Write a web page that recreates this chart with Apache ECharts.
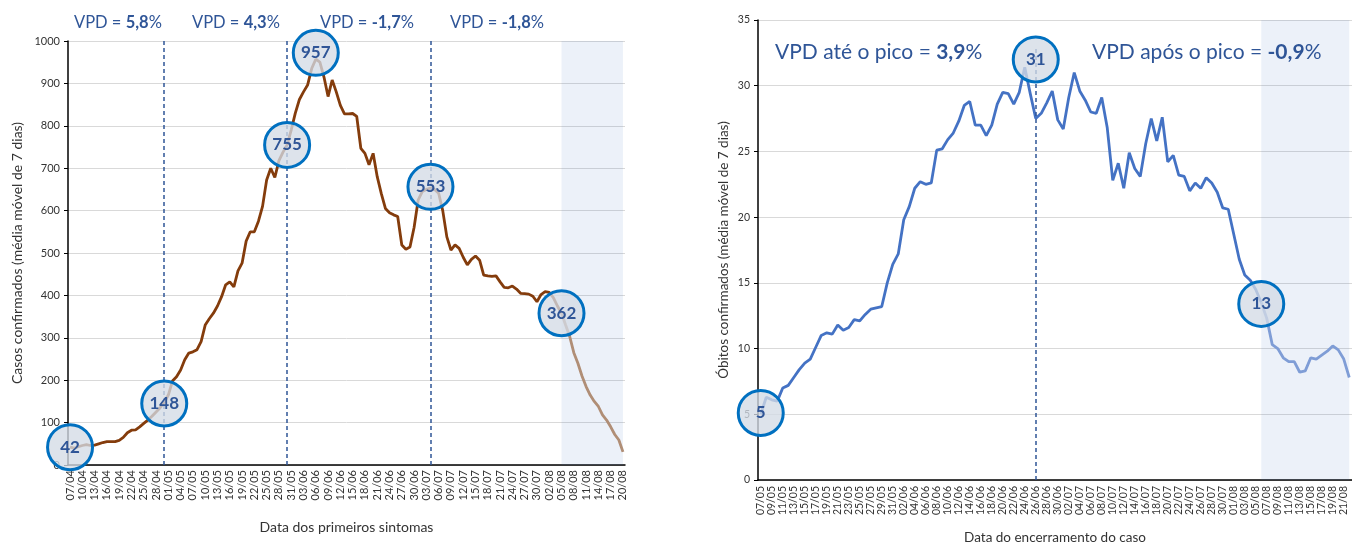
<!DOCTYPE html>
<html>
<head>
<meta charset="utf-8">
<script src="https://cdn.jsdelivr.net/npm/echarts@6/dist/echarts.min.js"></script>
<style>
  html, body { margin: 0; padding: 0; background: #fff; }
  #chart { width: 1352px; height: 545px; }
</style>
</head>
<body>
<div id="chart"></div>
<script>
// daily "dd/mm" labels from a start day
const dayLabels = (day, month, count) => {
  const out = [];
  const start = Date.UTC(2020, month - 1, day);
  for (let i = 0; i < count; i++) {
    const d = new Date(start + i * 86400000);
    out.push(String(d.getUTCDate()).padStart(2, '0') + '/' + String(d.getUTCMonth() + 1).padStart(2, '0'));
  }
  return out;
};

// left: cases by first-symptom date (07/04 .. 20/08)
const casesDates = dayLabels(7, 4, 136);
const casesValues = [
  42, 40, 43, 46, 48, 46, 47, 50, 53, 55, 55, 55, 58, 65, 76, 82, 83, 90, 98, 106,
  115, 125, 135, 148, 165, 198, 208, 224, 248, 264, 267, 272, 291, 330, 345, 358, 375, 397, 425, 432,
  420, 458, 476, 528, 550, 550, 575, 610, 672, 700, 678, 718, 738, 755, 790, 830, 862, 880, 896, 935,
  957, 950, 915, 869, 908, 880, 848, 828, 828, 829, 822, 747, 735, 708, 735, 680, 640, 605, 595, 590,
  586, 519, 509, 514, 560, 625, 645, 650, 653, 650, 641, 600, 538, 507, 519, 511, 490, 472, 485, 493,
  483, 448, 446, 445, 446, 432, 419, 418, 422, 415, 405, 404, 403, 398, 385, 402, 409, 407, 395, 375,
  358, 330, 303, 265, 240, 210, 185, 165, 150, 138, 118, 106, 90, 72, 59, 31
];
const casesBreaks = ['30/04', '30/05', '04/07'];
const casesShadeFrom = '05/08';
const casesMarkers = [['07/04', 42, '42'], ['30/04', 145, '148'], ['30/05', 755, '755'], ['06/06', 972, '957'], ['04/07', 656, '553'], ['05/08', 358, '362']];
const casesVpd = [['5,8', 74], ['4,3', 192], ['-1,7', 320], ['-1,8', 450]];

// right: deaths by case closing date (07/05 .. 22/08)
const deathsDates = dayLabels(7, 5, 108);
const deathsValues = [
  5.0, 6.3, 6.1, 6.0, 7.0, 7.2, 7.8, 8.4, 8.9, 9.2, 10.1, 11.0, 11.2, 11.1, 11.8, 11.4, 11.6, 12.2, 12.1, 12.6,
  13.0, 13.1, 13.2, 15.0, 16.4, 17.2, 19.8, 20.8, 22.2, 22.7, 22.5, 22.6, 25.1, 25.2, 25.9, 26.4, 27.3, 28.5, 28.8, 27.0,
  27.0, 26.2, 27.0, 28.6, 29.5, 29.4, 28.6, 29.5, 31.4, 29.4, 27.5, 27.9, 28.7, 29.6, 27.4, 26.7, 29.1, 31.0, 29.6, 28.9,
  28.0, 27.9, 29.1, 26.8, 22.8, 24.1, 22.2, 24.9, 23.7, 23.1, 25.6, 27.5, 25.8, 27.6, 24.2, 24.7, 23.2, 23.1, 22.0, 22.6,
  22.2, 23.0, 22.6, 21.9, 20.7, 20.6, 18.7, 16.8, 15.6, 15.2, 14.5, 13.5, 12.3, 10.3, 10.0, 9.3, 9.0, 9.0, 8.2, 8.3,
  9.3, 9.2, 9.5, 9.8, 10.2, 9.9, 9.2, 7.8
];
const deathsPeak = '26/06';
const deathsShadeFrom = '06/08';
const deathsMarkers = [['07/05', 5.1, '5'], ['26/06', 32, '31'], ['06/08', 13.4, '13']];
const deathsVpd = [['VPD até o pico = ', '3,9', 775], ['VPD após o pico = ', '-0,9', 1092]];

const font = 'Lato, "Open Sans", sans-serif';
const blueText = '#2f5597';

// split a series at a category: before (inclusive) / after (inclusive)
const upTo = (values, idx) => values.map((v, i) => (i <= idx ? v : '-'));
const fromOn = (values, idx) => values.map((v, i) => (i >= idx ? v : '-'));
const casesCut = casesDates.indexOf(casesShadeFrom);
const deathsCut = deathsDates.indexOf(deathsShadeFrom);

const marker = (xAxisIndex, yAxisIndex, data) => ({
  type: 'scatter', xAxisIndex, yAxisIndex, data, clip: false, z: 5,
  symbolSize: 45,
  itemStyle: { color: 'rgba(212,219,229,0.78)', borderColor: '#0070c0', borderWidth: 3, opacity: 1 },
  label: { show: true, position: 'inside', formatter: (p) => p.data[2], color: blueText, fontFamily: font, fontWeight: 'bold', fontSize: 17 },
  emphasis: { disabled: true },
});

const line = (xAxisIndex, data, color, extra) => ({
  type: 'line', xAxisIndex, yAxisIndex: xAxisIndex, data, showSymbol: false, z: 3,
  lineStyle: { width: 2.8, color }, itemStyle: { color },
  emphasis: { disabled: true },
  ...extra,
});

const axisLabel = { color: '#333', fontFamily: font, fontSize: 11 };
const nameStyle = { color: '#333', fontFamily: font, fontSize: 14 };
const vpdRich = (size) => ({
  fontWeight: 'normal',
  rich: {
    a: { color: blueText, fontSize: size, fontWeight: 'normal', fontFamily: font },
    b: { color: blueText, fontSize: size, fontWeight: 'bold', fontFamily: font },
  },
});

const chart = echarts.init(document.getElementById('chart'), null, { renderer: 'canvas' });
chart.setOption({
  animation: false,
  textStyle: { fontFamily: font },
  title: [
    ...casesVpd.map(([v, left]) => ({ text: `{a|VPD = }{b|${v}}{a|%}`, left, top: 14, padding: 0, textStyle: vpdRich(16.5) })),
    ...deathsVpd.map(([t, v, left]) => ({ text: `{a|${t}}{b|${v}}{a|%}`, left, top: 42, padding: 0, textStyle: vpdRich(21) })),
  ],
  grid: [
    { left: 68, top: 41, width: 557, height: 424, outerBoundsMode: 'none' },
    { left: 758, top: 20, width: 594, height: 460, outerBoundsMode: 'none' },
  ],
  xAxis: [
    {
      type: 'category', gridIndex: 0, data: casesDates, boundaryGap: true,
      name: 'Data dos primeiros sintomas', nameLocation: 'middle', nameGap: 55, nameTextStyle: nameStyle,
      axisLine: { lineStyle: { color: '#000', width: 1.5 } },
      axisTick: { interval: 2, alignWithLabel: true, length: 5, lineStyle: { color: '#000' } },
      axisLabel: { ...axisLabel, interval: 2, rotate: 90, margin: 5 },
    },
    {
      type: 'category', gridIndex: 1, data: deathsDates, boundaryGap: true,
      name: 'Data do encerramento do caso', nameLocation: 'middle', nameGap: 51, nameTextStyle: { ...nameStyle, fontSize: 13.5 },
      axisLine: { lineStyle: { color: '#000', width: 1.5 } },
      axisTick: { interval: 1, alignWithLabel: true, length: 5, lineStyle: { color: '#000' } },
      axisLabel: { ...axisLabel, fontSize: 10.5, interval: 1, rotate: 90, margin: 6 },
    },
  ],
  yAxis: [
    {
      type: 'value', gridIndex: 0, min: 0, max: 1000, interval: 100,
      name: 'Casos confirmados (média móvel de 7 dias)', nameLocation: 'middle', nameGap: 44, nameTextStyle: nameStyle,
      axisLine: { show: true, lineStyle: { color: '#000', width: 1.5 } },
      axisTick: { show: true, length: 4, lineStyle: { color: '#000' } },
      axisLabel: { ...axisLabel, margin: 8, formatter: (v) => String(v) },
      splitLine: { lineStyle: { color: '#d9d9d9' } },
    },
    {
      type: 'value', gridIndex: 1, min: 0, max: 35, interval: 5,
      name: 'Óbitos confirmados (média móvel de 7 dias)', nameLocation: 'middle', nameGap: 27, nameTextStyle: { ...nameStyle, fontSize: 13.5 },
      axisLine: { show: true, lineStyle: { color: '#000', width: 1.5 } },
      axisTick: { show: true, length: 4, lineStyle: { color: '#000' } },
      axisLabel: { ...axisLabel, fontSize: 10.5, margin: 8 },
      splitLine: { lineStyle: { color: '#d9d9d9' } },
    },
  ],
  series: [
    line(0, upTo(casesValues, casesCut), '#843c0c', {
      markLine: {
        silent: true, symbol: 'none', label: { show: false },
        lineStyle: { color: '#2f5597', type: [4, 3], width: 1.5 },
        data: casesBreaks.map((d) => ({ xAxis: d })),
      },
      markArea: {
        silent: true, itemStyle: { color: 'rgba(68,114,196,0.1)' },
        data: [[{ xAxis: casesShadeFrom }, { xAxis: casesDates[casesDates.length - 1] }]],
      },
    }),
    line(0, fromOn(casesValues, casesCut), '#b08e76'),
    marker(0, 0, casesMarkers),
    line(1, upTo(deathsValues, deathsCut), '#4472c4', {
      markLine: {
        silent: true, symbol: 'none', label: { show: false },
        lineStyle: { color: '#2f5597', type: [4, 3], width: 1.5 },
        data: [[{ xAxis: deathsPeak, yAxis: 0 }, { xAxis: deathsPeak, yAxis: 33 }]],
      },
      markArea: {
        silent: true, itemStyle: { color: 'rgba(68,114,196,0.1)' },
        data: [[{ xAxis: deathsShadeFrom }, { xAxis: deathsDates[deathsDates.length - 1] }]],
      },
    }),
    line(1, fromOn(deathsValues, deathsCut), '#7f9dd6'),
    marker(1, 1, deathsMarkers),
  ],
});
</script>
</body>
</html>
